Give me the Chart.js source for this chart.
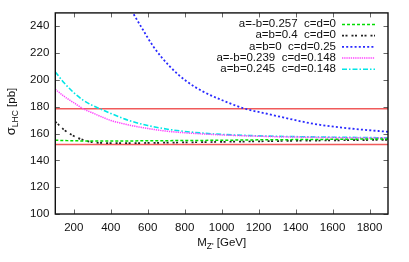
<!DOCTYPE html>
<html>
<head>
<meta charset="utf-8">
<script src="https://cdn.jsdelivr.net/npm/chart.js@4"></script>
<style>
html,body{margin:0;padding:0;background:#fff;}
canvas{display:block;}
</style>
</head>
<body>
<canvas id="c" width="409" height="262"></canvas>
<script>
// ---- data ----
const mzGrid = [100,150,200,250,300,350,400,500,600,700,800,900,1000,1200,1400,1600,1800,1900];
const sigGreen   = [155.0,154.8,154.6,154.5,154.4,154.4,154.4,154.5,154.6,154.7,154.8,154.9,155.0,155.3,155.5,155.7,155.9,156.0];
const sigBlack   = [169.0,162.5,158.2,155.3,153.6,153.0,152.8,152.8,153.0,153.2,153.4,153.6,153.8,154.2,154.6,154.9,155.2,155.3];
const sigMagenta = [193.0,187.5,183.0,178.5,175.5,172.5,169.8,166.3,163.8,161.8,160.6,159.7,159.0,158.0,157.4,157.0,156.7,156.6];
const sigCyan    = [206.0,197.5,190.5,185.0,181.0,178.0,175.0,169.7,166.0,163.4,161.6,160.3,159.4,158.3,157.7,157.3,157.0,156.8];
const mzBlue  = [480,520,576,630,720,810,900,990,1116,1260,1350,1500,1680,1900];
const sigBlue = [260,250,237,225,210,199,191.3,185.6,179.0,174.3,171.5,167.2,164.0,161.3];
const bandMz = [100,1900];
const bandUpper = [178.5,178.5];
const bandLower = [151.8,151.8];
const labels = ['a=-b=0.257  c=d=0','a=b=0.4  c=d=0','a=b=0  c=d=0.25','a=-b=0.239  c=d=0.148','a=b=0.245  c=d=0.148'];
const xTickVals = [200,400,600,800,1000,1200,1400,1600,1800];
const yTickVals = [100,120,140,160,180,200,220,240];

const pts = (xs, ys) => xs.map((x,i)=>({x:x, y:ys[i]}));
const FONT = '"Liberation Sans", Arial, Helvetica, sans-serif';
const FS = 11.5;

const datasets = [
  {label:labels[0], data:pts(mzGrid,sigGreen), borderColor:'#00dd00', borderWidth:1.5, borderDash:[3,2]},
  {label:labels[1], data:pts(mzGrid,sigBlack), borderColor:'#222222', borderWidth:1.7, borderDash:[2,1.5,2,4]},
  {label:labels[2], data:pts(mzBlue,sigBlue), borderColor:'#2a2aff', borderWidth:1.8, borderDash:[2,2.2]},
  {label:labels[3], data:pts(mzGrid,sigMagenta), borderColor:'#ff44ff', borderWidth:1.5, borderDash:[1.3,0.9]},
  {label:labels[4], data:pts(mzGrid,sigCyan), borderColor:'#00e6e6', borderWidth:1.6, borderDash:[5,2,1.5,2]},
  {label:'', data:pts(bandMz,bandUpper), borderColor:'#f05a5a', borderWidth:1.6, legend:false},
  {label:'', data:pts(bandMz,bandLower), borderColor:'#f05a5a', borderWidth:1.6, legend:false}
];
datasets.forEach(d=>{ d.pointRadius=0; d.fill=false; d.cubicInterpolationMode='monotone'; });

const framePlugin = {
  id:'frame',
  afterDraw(chart){
    const ctx = chart.ctx, a = chart.chartArea;
    const xs = chart.scales.x, ys = chart.scales.y;
    ctx.save();
    ctx.strokeStyle = '#666';
    ctx.lineWidth = 1;
    const L = 4.5;
    ctx.beginPath();
    xTickVals.forEach(v=>{
      const px = Math.round(xs.getPixelForValue(v))+0.5;
      ctx.moveTo(px,a.bottom); ctx.lineTo(px,a.bottom-L);
      ctx.moveTo(px,a.top); ctx.lineTo(px,a.top+L);
    });
    yTickVals.forEach(v=>{
      const py = Math.round(ys.getPixelForValue(v))+0.5;
      ctx.moveTo(a.left,py); ctx.lineTo(a.left+L,py);
      ctx.moveTo(a.right,py); ctx.lineTo(a.right-L,py);
    });
    ctx.stroke();
    ctx.strokeStyle = '#111';
    ctx.lineWidth = 1.4;
    ctx.strokeRect(a.left, a.top, a.right-a.left, a.bottom-a.top);

    // legend
    ctx.font = FS + 'px ' + FONT;
    ctx.fillStyle = '#111';
    ctx.textAlign = 'right';
    ctx.textBaseline = 'middle';
    const rowY0 = 24, rowH = 11.2, textRight = 336, lx0 = 342, lx1 = 375;
    chart.data.datasets.forEach((d,i)=>{
      if (d.legend === false) return;
      const y = rowY0 + i*rowH;
      ctx.fillText(d.label, textRight, y);
      ctx.save();
      ctx.strokeStyle = d.borderColor;
      ctx.lineWidth = d.borderWidth;
      ctx.setLineDash(d.borderDash || []);
      ctx.beginPath(); ctx.moveTo(lx0, y+0.5); ctx.lineTo(lx1, y+0.5); ctx.stroke();
      ctx.restore();
    });

    // x title: M_{Z'} [GeV]
    ctx.textAlign = 'left';
    ctx.textBaseline = 'alphabetic';
    const big = FS + 'px ' + FONT, small = '8.5px ' + FONT;
    const parts = [['M',big,0],['Z\'',small,3],[' [GeV]',big,0]];
    let w = 0;
    parts.forEach(p=>{ ctx.font=p[1]; w += ctx.measureText(p[0]).width; });
    let x = (a.left+a.right)/2 - w/2;
    const yb = 245.5;
    parts.forEach(p=>{ ctx.font=p[1]; ctx.fillText(p[0], x, yb+p[2]); x += ctx.measureText(p[0]).width; });

    // y title: sigma_{LHC} [pb]
    ctx.save();
    ctx.translate(15, (a.top+a.bottom)/2 - 2);
    ctx.rotate(-Math.PI/2);
    const yparts = [['σ','13px '+FONT,0],['LHC',small,3],[' [pb]',big,0]];
    w = 0;
    yparts.forEach(p=>{ ctx.font=p[1]; w += ctx.measureText(p[0]).width; });
    x = -w/2;
    yparts.forEach(p=>{ ctx.font=p[1]; ctx.fillText(p[0], x, p[2]); x += ctx.measureText(p[0]).width; });
    ctx.restore();
    ctx.restore();
  }
};

new Chart(document.getElementById('c'), {
  type:'line',
  data:{datasets:datasets},
  options:{
    responsive:false,
    devicePixelRatio:1,
    animation:false,
    events:[],
    layout:{padding:{top:12.5,right:21,left:0,bottom:0}},
    plugins:{legend:{display:false}, tooltip:{enabled:false}},
    scales:{
      x:{
        type:'linear', min:100, max:1900,
        afterBuildTicks:(s)=>{ s.ticks = xTickVals.map(v=>({value:v})); },
        afterFit:(s)=>{ s.height = 48; },
        grid:{display:false, drawTicks:false}, border:{display:false},
        ticks:{color:'#111', font:{family:FONT,size:FS}, padding:6.5, maxRotation:0, autoSkip:false,
               callback:(v)=>String(v)}
      },
      y:{
        type:'linear', min:100, max:250,
        afterBuildTicks:(s)=>{ s.ticks = yTickVals.map(v=>({value:v})); },
        afterFit:(s)=>{ s.width = 55.3; },
        grid:{display:false, drawTicks:false}, border:{display:false},
        ticks:{color:'#111', font:{family:FONT,size:FS}, padding:6, autoSkip:false,
               callback:(v)=>String(v)}
      }
    }
  },
  plugins:[framePlugin]
});
</script>
</body>
</html>
